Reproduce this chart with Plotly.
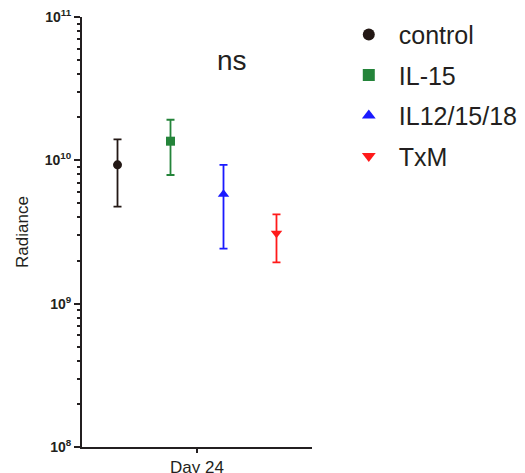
import plotly.graph_objects as go

groups = ["control", "IL-15", "IL12/15/18", "TxM"]
means = [9.3e9, 1.36e10, 5.8e9, 3.1e9]
err_hi = [1.40e10, 1.92e10, 9.3e9, 4.2e9]
err_lo = [4.75e9, 7.9e9, 2.42e9, 1.94e9]
colors = ["#231815", "#24843a", "#1a1aff", "#ff1a1a"]
symbols = ["circle", "square", "triangle-up", "triangle-down"]
category = "Day 24"
ytick_vals = [1e8, 1e9, 1e10, 1e11]
ytick_text = ["10<sup>8</sup>", "10<sup>9</sup>", "10<sup>10</sup>", "10<sup>11</sup>"]

fig = go.Figure()
n = len(groups)
for i, g in enumerate(groups):
    pos = i - (n - 1) / 2
    fig.add_trace(go.Scatter(
        x=[pos], y=[means[i]], name=g, mode="markers", legendgroup=g,
        marker=dict(symbol=symbols[i], color=colors[i], size=9 if i < 2 else 10, line=dict(width=0)),
        error_y=dict(type="data", symmetric=False,
                     array=[err_hi[i] - means[i]], arrayminus=[means[i] - err_lo[i]],
                     color=colors[i], thickness=1.8, width=4),
    ))

minor_vals = [m * 10 ** e for e in range(8, 11) for m in range(2, 10)]

fig.update_layout(
    width=525, height=473,
    margin=dict(l=82, r=213, t=17, b=26, autoexpand=False),
    plot_bgcolor="white", paper_bgcolor="white",
    font=dict(family="Liberation Sans, Arial", color="#231f20"),
    showlegend=True,
    legend=dict(x=1.1165, y=1.012, xanchor="left", yanchor="top",
                font=dict(size=25, color="#231f20"), itemsizing="constant",
                itemwidth=50, tracegroupgap=5, bgcolor="rgba(0,0,0,0)"),
    xaxis=dict(range=[-2.17, 2.17], showgrid=False, zeroline=False, automargin=False,
               showline=True, linecolor="#231f20", linewidth=2,
               tickvals=[0], ticktext=[category], ticks="outside", ticklen=4,
               tickwidth=2, tickcolor="#231f20", tickfont=dict(size=17)),
    yaxis=dict(type="log", range=[8, 11], showgrid=False, zeroline=False, automargin=False,
               showline=True, linecolor="#231f20", linewidth=2,
               tickvals=ytick_vals, ticktext=ytick_text, ticks="outside",
               ticklen=6, tickwidth=2, tickcolor="#231f20",
               tickfont=dict(size=14, family="Liberation Sans, Arial", weight="bold"),
               title=dict(text="Radiance", font=dict(size=17), standoff=12),
               minor=dict(tickvals=minor_vals, ticks="outside", ticklen=3,
                          tickwidth=1.5, tickcolor="#231f20", showgrid=False)),
    annotations=[dict(text="ns", x=0.65, y=0.94, xref="paper", yref="paper",
                      showarrow=False, font=dict(size=28, color="#231f20"))],
)

fig.write_html("out.html", config={"displayModeBar": False},
               post_script="document.body.style.margin='0';document.body.style.padding='0';")
